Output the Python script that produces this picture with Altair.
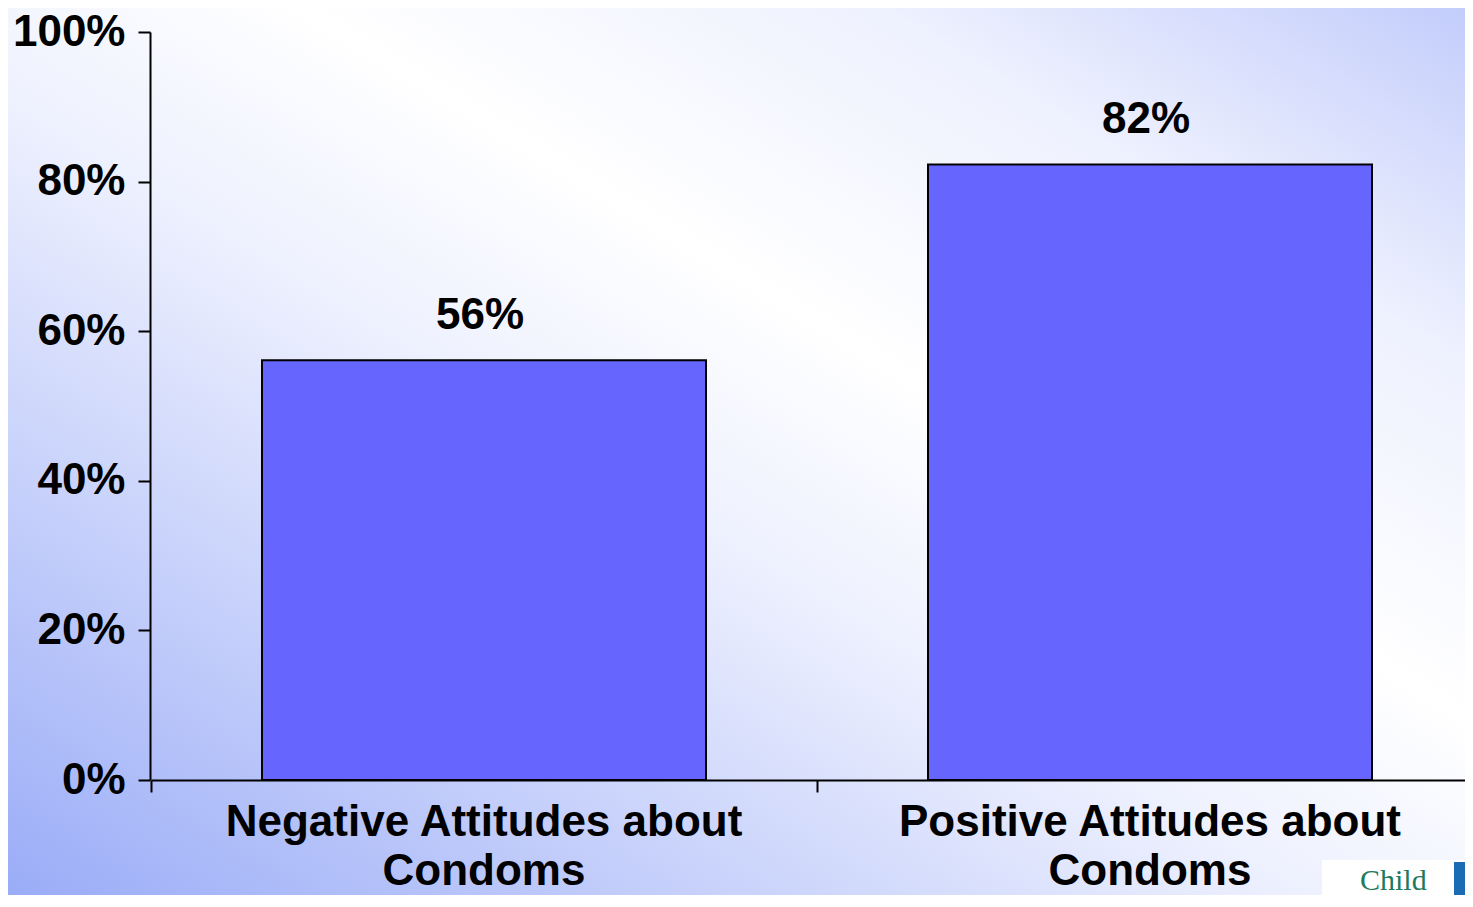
import altair as alt
import pandas as pd

# ---- data ----
categories = ["Negative Attitudes about Condoms", "Positive Attitudes about Condoms"]
axis_labels = ["Negative Attitudes about\nCondoms", "Positive Attitudes about\nCondoms"]
values = [0.561, 0.823]
value_labels = ["56%", "82%"]
y_ticks = [0, 0.2, 0.4, 0.6, 0.8, 1.0]

df = pd.DataFrame({
    "category": categories,
    "value": values,
    "label": value_labels,
    "axis_label": axis_labels,
})
one = pd.DataFrame({"k": [0]})

FONT = "Liberation Sans"
W, H = 1315, 748
BOTTOM = 115
YMAX = H + BOTTOM

# background gradient (decoration)
bg = alt.Chart(one).mark_rect(
    color=alt.LinearGradient(
        gradient="linear",
        stops=[
            alt.GradientStop(color="#9aacf7", offset=0),
            alt.GradientStop(color="#eef1fe", offset=0.45),
            alt.GradientStop(color="#ffffff", offset=0.6),
            alt.GradientStop(color="#eef1fe", offset=0.8),
            alt.GradientStop(color="#c3cdfb", offset=1),
        ],
        x1=0, y1=1, x2=1, y2=0,
    )
).encode(x=alt.value(-142), x2=alt.value(W), y=alt.value(-24), y2=alt.value(YMAX))

xscale = alt.Scale(range=[1, 1333], paddingInner=1/3, paddingOuter=1/6, round=False)

bars = alt.Chart(df).mark_bar(color="#6666FF", stroke="black", strokeWidth=2).encode(
    x=alt.X("category:N", sort=categories, scale=xscale,
            axis=alt.Axis(title=None, labels=False, bandPosition=0.5, tickOffset=-333,
                          tickSize=12, tickWidth=2, tickColor="black",
                          domainColor="black", domainWidth=2, zindex=1)),
    y=alt.Y("value:Q", scale=alt.Scale(domain=[0, 1]),
            axis=alt.Axis(values=y_ticks, format=".0%", title=None, grid=False,
                          tickSize=12, tickWidth=2, tickColor="black",
                          domainColor="black", domainWidth=2, labelFont=FONT,
                          labelFontSize=44, labelFontWeight="bold",
                          labelColor="black", labelPadding=13, zindex=1)),
)

value_text = alt.Chart(df).mark_text(
    dy=-31, dx=-4, baseline="alphabetic", align="center", font=FONT, fontSize=44,
    fontWeight="bold", color="black"
).encode(
    x=alt.X("category:N", sort=categories),
    y=alt.Y("value:Q"),
    text="label:N",
)

cat_text = alt.Chart(df).mark_text(
    lineBreak="\n", baseline="alphabetic", align="center", font=FONT, fontSize=44,
    fontWeight="bold", color="black", lineHeight=49
).encode(
    x=alt.X("category:N", sort=categories),
    y=alt.value(804),
    text="axis_label:N",
)

# logo corner (decoration)
logo_white = alt.Chart(one).mark_rect(color="white").encode(
    x=alt.value(1172), x2=alt.value(W), y=alt.value(828), y2=alt.value(YMAX))
logo_blue = alt.Chart(one).mark_rect(color="#1a6db3").encode(
    x=alt.value(1304), x2=alt.value(W), y=alt.value(830), y2=alt.value(YMAX))
logo_text = alt.Chart(one).mark_text(
    text="Child", align="left", baseline="alphabetic", font="Liberation Serif",
    fontSize=30, color="#1f7a5c"
).encode(x=alt.value(1210), y=alt.value(858))

chart = alt.layer(bg, bars, value_text, cat_text, logo_white, logo_blue, logo_text).properties(
    width=W, height=H,
    autosize=alt.AutoSizeParams(type="none"),
    padding={"left": 142, "top": 24, "right": 0, "bottom": BOTTOM},
).configure_view(stroke=None)

chart.save("out.html", embed_options={"renderer": "svg", "actions": False})
